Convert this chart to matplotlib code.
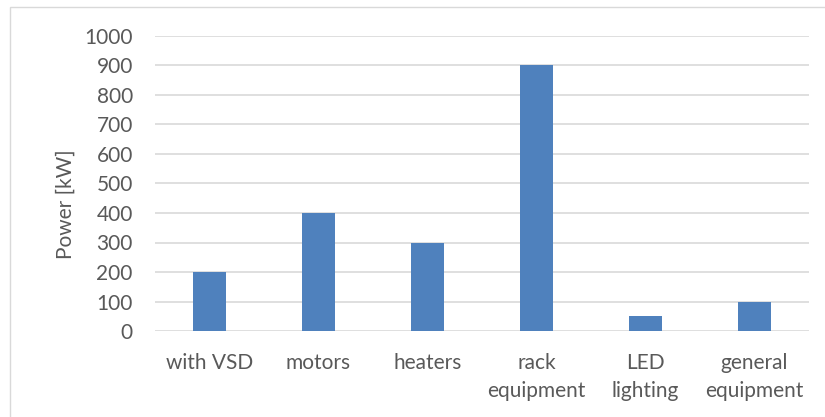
import matplotlib
matplotlib.use("Agg")
import matplotlib.pyplot as plt
import numpy as np

categories = ["with VSD", "motors", "heaters", "rack\nequipment", "LED\nlighting", "general\nequipment"]
power_kw = [200, 400, 300, 900, 50, 100]
y_ticks = list(range(0, 1001, 100))

TEXT = "#595959"
GRID = "#D9D9D9"
BAR = "#4F81BD"


def main():
    plt.rcParams["font.family"] = ["Lato", "DejaVu Sans"]
    fig = plt.figure(figsize=(8.25, 4.17), dpi=100)
    ax = fig.add_axes([155 / 825, 1 - 331 / 417, (809 - 155) / 825, (331 - 36) / 417])

    x = np.arange(len(categories))
    ax.bar(x, power_kw, width=0.31, color=BAR, zorder=3)

    ax.set_xlim(-0.5, len(categories) - 0.5)
    ax.set_ylim(0, 1000)
    ax.set_yticks(y_ticks)
    ax.set_xticks(x)
    ax.set_xticklabels(categories, fontsize=15, color=TEXT, linespacing=1.5)
    ax.tick_params(axis="y", labelsize=15, labelcolor=TEXT, length=0, pad=16)
    ax.tick_params(axis="x", length=0, pad=16)
    ax.yaxis.grid(True, color=GRID, linewidth=1.2, zorder=0)
    for s in ax.spines.values():
        s.set_visible(False)
    ax.set_ylabel("Power [kW]", fontsize=15, color=TEXT)
    ax.yaxis.set_label_coords(-0.122, 0.43)

    # outer chart frame
    fig.patches.append(plt.Rectangle((10 / 825, -0.1), 1, (417 - 7) / 417 + 0.1,
                                     transform=fig.transFigure, fill=False,
                                     edgecolor=GRID, linewidth=1))

    fig.savefig("out.png", dpi=100)


if __name__ == "__main__":
    main()
